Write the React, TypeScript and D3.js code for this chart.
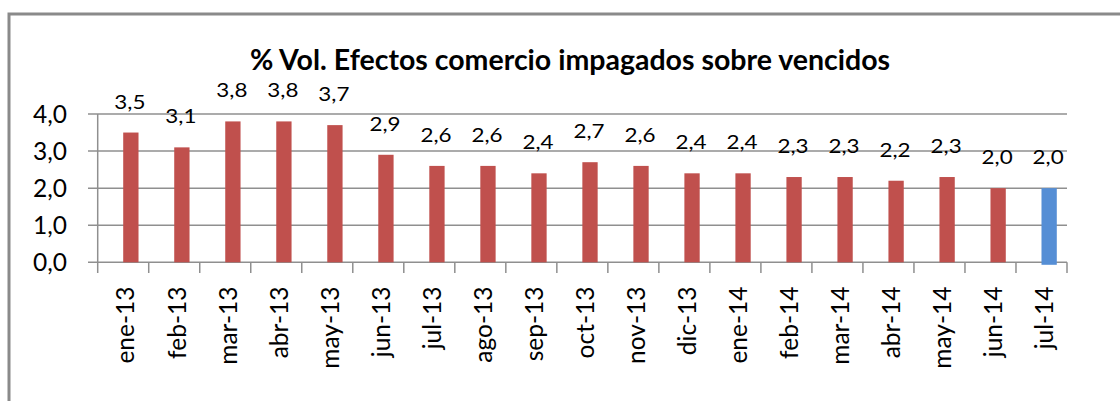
import React from "react";
import * as d3 from "d3";

const categories = ["ene-13","feb-13","mar-13","abr-13","may-13","jun-13","jul-13","ago-13","sep-13","oct-13","nov-13","dic-13","ene-14","feb-14","mar-14","abr-14","may-14","jun-14","jul-14"];
const values = [3.5,3.1,3.8,3.8,3.7,2.9,2.6,2.6,2.4,2.7,2.6,2.4,2.4,2.3,2.3,2.2,2.3,2.0,2.0];
const yTicks = [0,1,2,3,4];
const title = "% Vol. Efectos comercio impagados sobre vencidos";

const FONT = "Lato, 'Open Sans', sans-serif";
const RED = "#C0504D";
const BLUE = "#558ED5";
const GRID = "#8f8f8f";

export default function App() {
  const W = 1120, H = 401;
  const x = d3.scaleBand<string>().domain(categories).range([97.7, 1067]).padding(0);
  const y = d3.scaleLinear().domain([0, 4]).range([262.3, 114]);
  const bw = x.bandwidth();
  const fmt = (v: number) => v.toFixed(1).replace(".", ",");
  const last = categories.length - 1;

  return (
    <svg width={W} height={H} style={{ position: "absolute", left: 0, top: 0, display: "block", background: "#fff" }}>
      {/* outer border */}
      <path d={`M9,${H + 5} L9,14 L${W + 5},14`} fill="none" stroke="#8a8a8a" strokeWidth={3} />
      <text x={570} y={70} textAnchor="middle" fontFamily={FONT} fontWeight="bold" fontSize={28.5} fill="#000">{title}</text>
      {/* gridlines */}
      {yTicks.map((t) => (
        <line key={t} x1={88} x2={1067} y1={y(t)} y2={y(t)} stroke={GRID} strokeWidth={1.5} />
      ))}
      {/* y axis */}
      <line x1={97.7} x2={97.7} y1={y(4)} y2={273} stroke={GRID} strokeWidth={1.5} />
      {categories.map((c) => (
        <line key={"t" + c} x1={x(c)! + bw} x2={x(c)! + bw} y1={y(0)} y2={273} stroke={GRID} strokeWidth={1.5} />
      ))}
      {yTicks.map((t) => (
        <text key={"yl" + t} x={67} y={y(t)} dy="0.36em" textAnchor="end" fontFamily={FONT} fontSize={24.5} fill="#000">{fmt(t)}</text>
      ))}
      {/* bars */}
      {categories.map((c, i) => (
        <rect key={"b" + c} x={x(c)! + bw * 0.5} width={bw * 0.3} y={y(values[i])} height={y(0) - y(values[i]) + (i === last ? 2.5 : 0)} fill={i === last ? BLUE : RED} />
      ))}
      {/* value labels */}
      {categories.map((c, i) => (
        <text key={"v" + c} transform={`translate(${x(c)! + bw * 0.63},${y(values[i]) - 24}) scale(1.15,1)`} textAnchor="middle" fontFamily={FONT} fontSize={19.5} fill="#000">{fmt(values[i])}</text>
      ))}
      {/* x labels */}
      {categories.map((c) => {
        const cx = x(c)! + bw * 0.535;
        return (
          <text key={"x" + c} transform={`translate(${cx},286.5) rotate(-90)`} textAnchor="end" dominantBaseline="central" fontFamily={FONT} fontSize={24.5} fill="#000">{c}</text>
        );
      })}
    </svg>
  );
}
